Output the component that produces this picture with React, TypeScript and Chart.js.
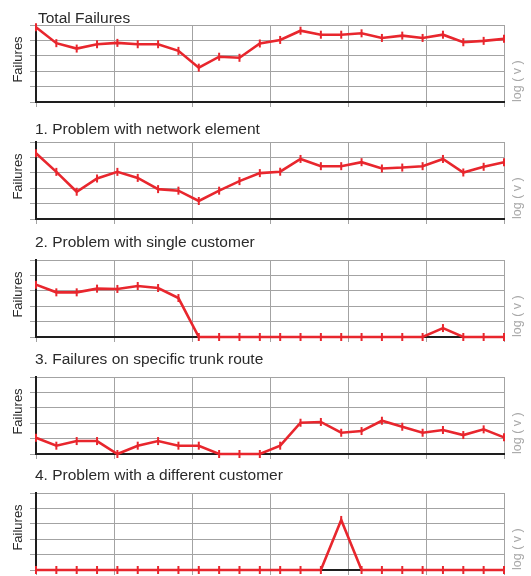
import React, { useEffect, useRef } from "react";
import { Chart, registerables } from "chart.js";

Chart.register(...registerables);

// ---------- data ----------
const panelTitles = [
  "Total Failures",
  "1. Problem with network element",
  "2. Problem with single customer",
  "3. Failures on specific trunk route",
  "4. Problem with a different customer",
];
const yAxisTitle = "Failures";
const rightLabel = "log ( v )";

// 24 periods (x index)
const periods = [0, 1, 2, 3, 4, 5, 6, 7, 8, 9, 10, 11, 12, 13, 14, 15, 16, 17, 18, 19, 20, 21, 22, 23];

const totalFailures = [4.85, 3.82, 3.47, 3.75, 3.84, 3.75, 3.75, 3.32, 2.23, 2.94, 2.87, 3.8, 4.03, 4.63, 4.37, 4.37, 4.46, 4.16, 4.31, 4.16, 4.37, 3.88, 3.97, 4.1];
const networkElement = [4.27, 3.06, 1.77, 2.63, 3.06, 2.67, 1.94, 1.84, 1.17, 1.84, 2.46, 2.98, 3.07, 3.9, 3.43, 3.43, 3.69, 3.28, 3.34, 3.43, 3.9, 3.02, 3.39, 3.69];
const singleCustomer = [3.4, 2.9, 2.9, 3.14, 3.12, 3.31, 3.18, 2.53, 0, 0, 0, 0, 0, 0, 0, 0, 0, 0, 0, 0, 0.58, 0, 0, 0];
const trunkRoute = [1.06, 0.54, 0.84, 0.84, 0, 0.54, 0.84, 0.54, 0.54, 0, 0, 0, 0.54, 2.03, 2.08, 1.38, 1.49, 2.16, 1.77, 1.38, 1.56, 1.23, 1.6, 1.08];
const differentCustomer = [0, 0, 0, 0, 0, 0, 0, 0, 0, 0, 0, 0, 0, 0, 0, 3.25, 0, 0, 0, 0, 0, 0, 0, 0];

const seriesList = [totalFailures, networkElement, singleCustomer, trunkRoute, differentCustomer];

const yMin = 0;
const yMax = 5;
const xMin = 0;
const xMax = 23;
const xGridCount = 6;

// ---------- style ----------
const RED = "#e8262d";
const GRID = "#a3a3a3";
const AXIS = "#1e1e1e";
const FONT = '"Liberation Sans", Arial, Helvetica, sans-serif';

const canvasTops = [0, 117, 235, 352, 468];
const titleX = [38, 35, 35, 35, 35];
const titleY = [22.5, 17.3, 11.5, 12, 12.3];
const CANVAS_W = 531;
const CANVAS_H = 110;

const decorPlugin = {
  id: "decor",
  afterDraw(chart: any, _args: any, opts: any) {
    const { ctx, chartArea: a } = chart;
    ctx.save();
    ctx.fillStyle = "#2a2a2a";
    ctx.font = `15.5px ${FONT}`;
    ctx.textAlign = "left";
    ctx.textBaseline = "alphabetic";
    ctx.fillText(opts.title, opts.titleX, opts.titleY);
    ctx.restore();

    ctx.save();
    ctx.translate(18.5, (a.top + a.bottom) / 2 - 4);
    ctx.rotate(-Math.PI / 2);
    ctx.fillStyle = "#2a2a2a";
    ctx.font = `13px ${FONT}`;
    ctx.textAlign = "center";
    ctx.textBaseline = "middle";
    ctx.fillText(yAxisTitle, 0, 0);
    ctx.restore();

    ctx.save();
    ctx.translate(518, a.bottom);
    ctx.rotate(-Math.PI / 2);
    ctx.fillStyle = "#a8a8a8";
    ctx.font = `12.5px ${FONT}`;
    ctx.textAlign = "left";
    ctx.textBaseline = "middle";
    ctx.fillText(rightLabel, 0, 0);
    ctx.restore();
  },
};

function Panel({ idx }: { idx: number }) {
  const ref = useRef<HTMLCanvasElement>(null);
  useEffect(() => {
    const values = seriesList[idx];
    const chart = new Chart(ref.current as HTMLCanvasElement, {
      type: "line",
      data: {
        datasets: [
          {
            data: periods.map((p, i) => ({ x: p, y: values[i] })),
            borderColor: RED,
            borderWidth: 2.6,
            tension: 0,
            pointStyle: "line",
            pointRotation: 90,
            pointRadius: 4,
            pointBorderWidth: 2,
            pointBorderColor: RED,
            pointBackgroundColor: RED,
            clip: false,
          } as any,
        ],
      },
      options: {
        responsive: false,
        animation: false,
        events: [],
        layout: { padding: { top: 25, right: 27, left: 0, bottom: 0 } },
        plugins: {
          legend: { display: false },
          tooltip: { enabled: false },
          title: { display: false },
          decor: { title: panelTitles[idx], titleX: titleX[idx], titleY: titleY[idx] },
        } as any,
        scales: {
          x: {
            type: "linear",
            min: xMin,
            max: xMax,
            afterBuildTicks: (s: any) => {
              const t = [];
              for (let k = 0; k <= xGridCount; k++) t.push({ value: xMin + ((xMax - xMin) * k) / xGridCount });
              s.ticks = t;
            },
            afterFit: (s: any) => {
              s.height = 8;
            },
            ticks: { display: false },
            grid: { color: GRID, lineWidth: 1, drawTicks: true, tickLength: 5, tickColor: GRID },
            border: { display: true, color: AXIS, width: 2 },
          },
          y: {
            type: "linear",
            min: yMin,
            max: yMax,
            afterFit: (s: any) => {
              s.width = 36;
            },
            ticks: { display: false, stepSize: 1 },
            grid: { color: GRID, lineWidth: 1, drawTicks: true, tickLength: 6, tickColor: GRID },
            border: { display: true, color: AXIS, width: 2 },
          },
        },
      } as any,
      plugins: [decorPlugin],
    });
    return () => chart.destroy();
  }, [idx]);
  return (
    <canvas
      ref={ref}
      width={CANVAS_W}
      height={CANVAS_H}
      style={{ position: "absolute", left: 0, top: canvasTops[idx], display: "block", width: CANVAS_W, height: CANVAS_H }}
    />
  );
}

export default function App() {
  return (
    <div style={{ position: "fixed", top: 0, left: 0, width: 531, height: 576, overflow: "hidden", background: "#fff" }}>
      {seriesList.map((_, i) => (
        <Panel key={i} idx={i} />
      ))}
    </div>
  );
}
